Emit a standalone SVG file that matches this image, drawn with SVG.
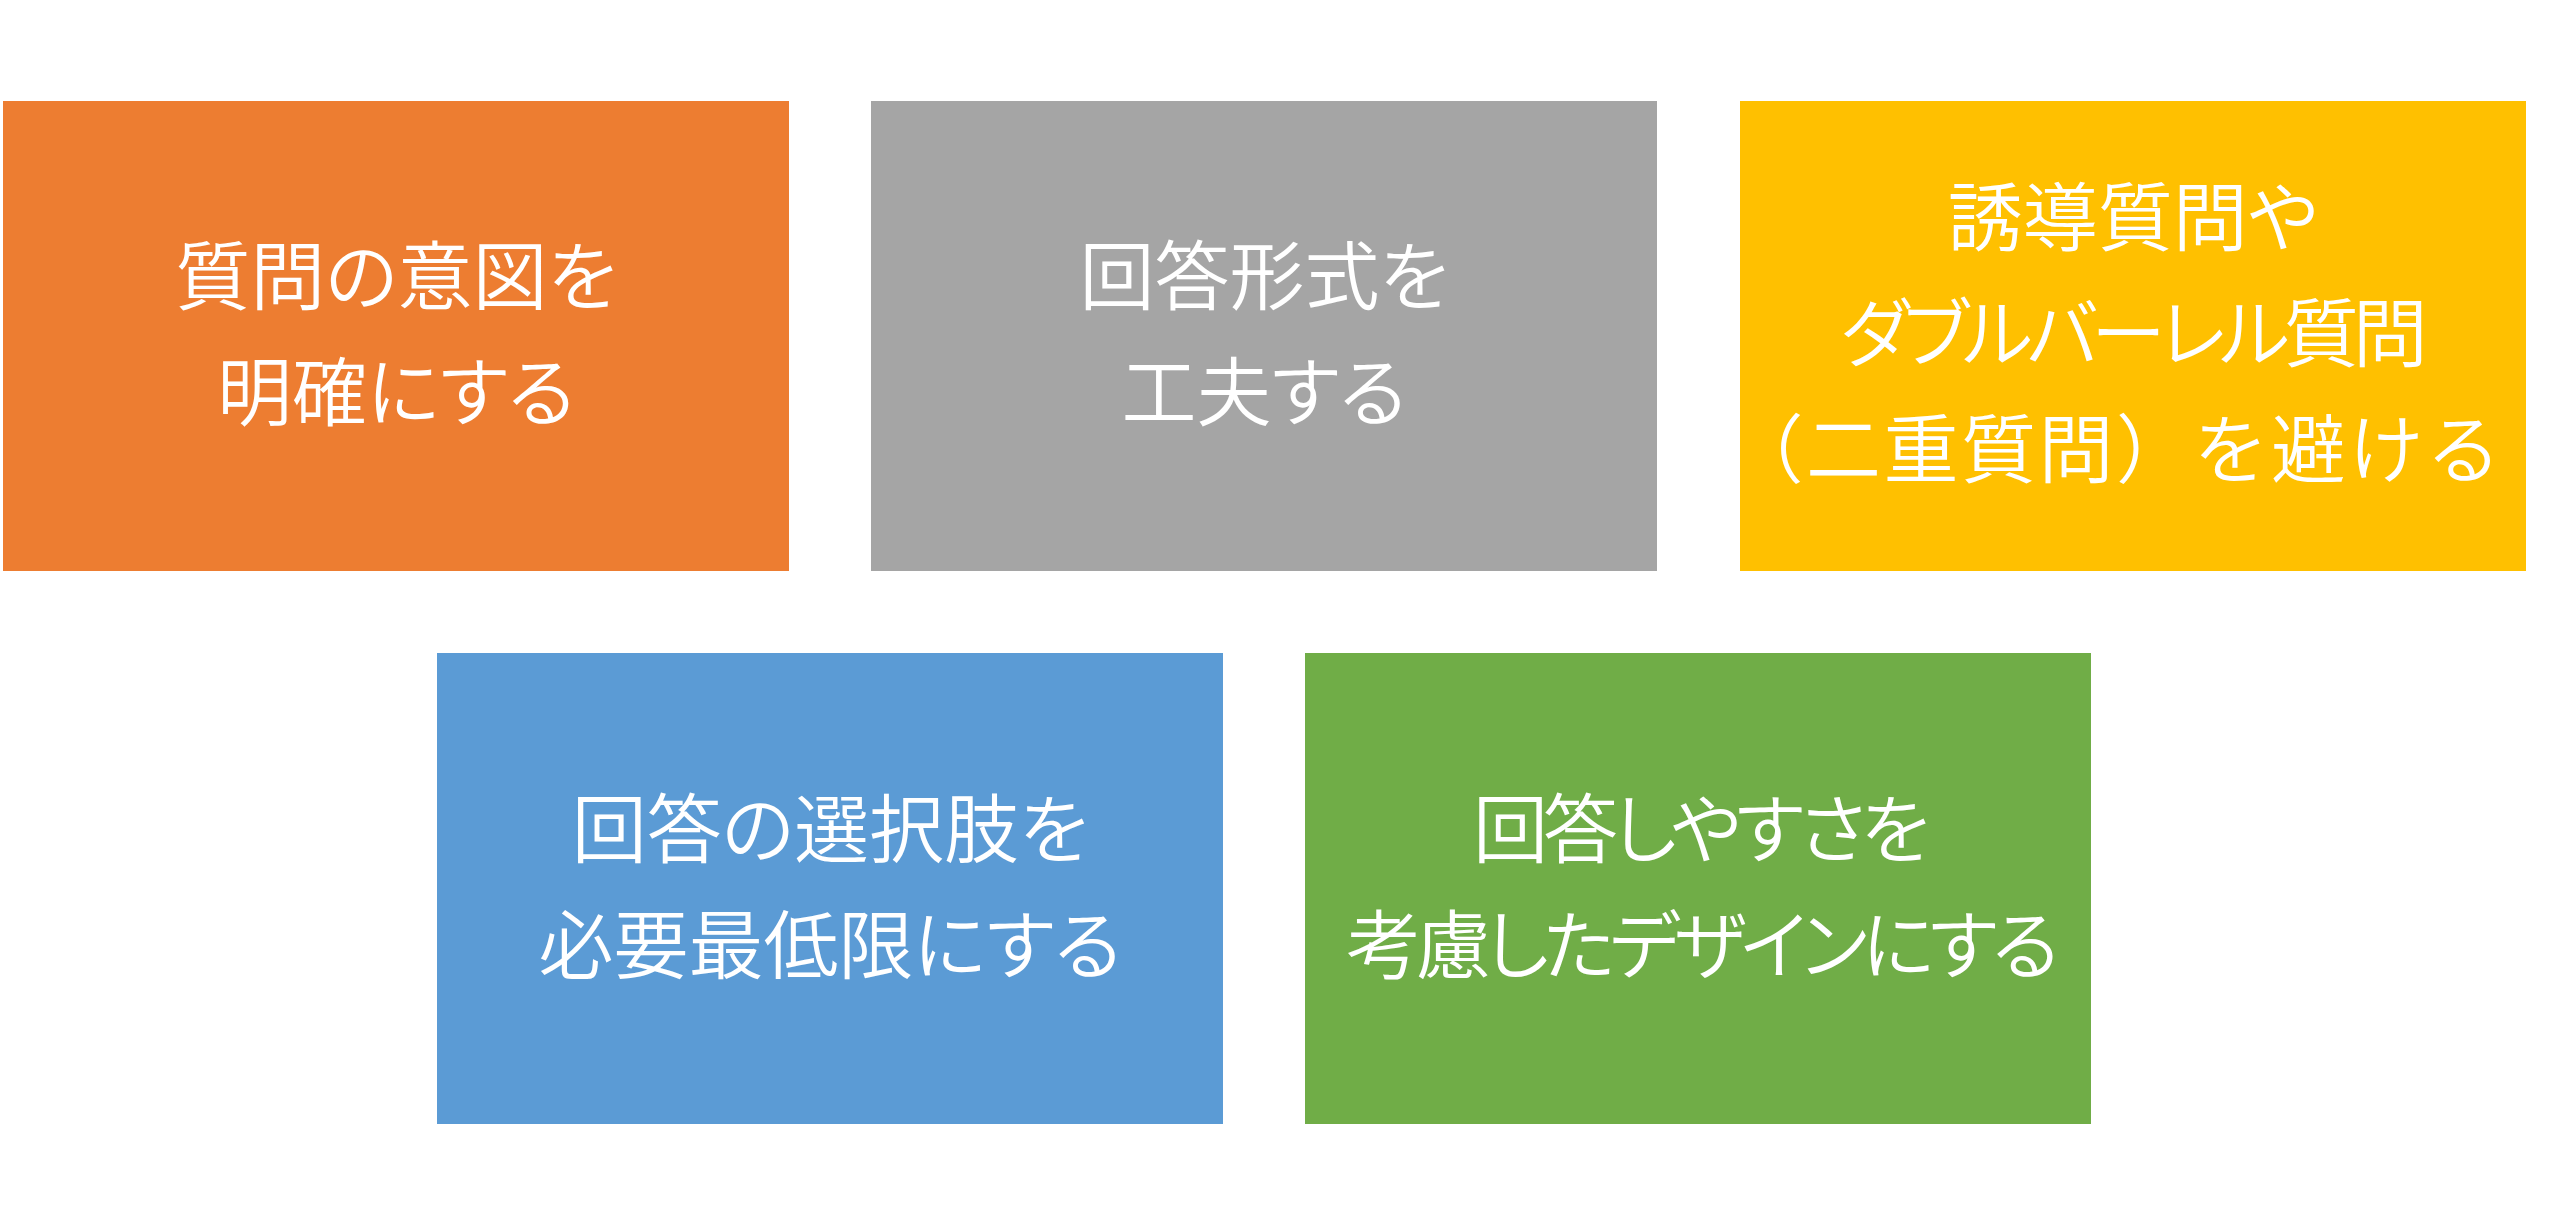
<svg xmlns="http://www.w3.org/2000/svg" width="2560" height="1224" viewBox="0 0 2560 1224">
<style>
.box{stroke:none}
.lbl{font-family:"Noto Sans CJK JP","Noto Sans CJK SC",sans-serif;font-size:75px;font-weight:350;fill:#FFFFFF;text-anchor:middle;font-feature-settings:"palt" 1}
.full{font-feature-settings:normal}
</style>
<rect x="0" y="0" width="2560" height="1224" fill="#FFFFFF"/>
<g id="connectors"/>
<g id="node-intent">
<rect class="box" x="3" y="101" width="786" height="470" fill="#ED7D31"/>
<text class="lbl" x="396" y="304">質問の意図を</text>
<text class="lbl" x="396" y="420">明確にする</text>
</g>
<g id="node-format">
<rect class="box" x="871" y="101" width="786" height="470" fill="#A5A5A5"/>
<text class="lbl" x="1264" y="304">回答形式を</text>
<text class="lbl" x="1264" y="420">工夫する</text>
</g>
<g id="node-leading">
<rect class="box" x="1740" y="101" width="786" height="470" fill="#FFC000"/>
<text class="lbl" x="2133" y="245">誘導質問や</text>
<text class="lbl" x="2131" y="361" letter-spacing="-6">ダブルバーレル質問</text>
<text class="lbl full" x="2116" y="477" letter-spacing="2.5">（二重質問）を避ける</text>
</g>
<g id="node-choices">
<rect class="box" x="437" y="653" width="786" height="471" fill="#5B9BD5"/>
<text class="lbl" x="830" y="857">回答の選択肢を</text>
<text class="lbl" x="830" y="973">必要最低限にする</text>
</g>
<g id="node-design">
<rect class="box" x="1305" y="653" width="786" height="471" fill="#70AD47"/>
<text class="lbl" x="1699" y="857" letter-spacing="-5">回答しやすさを</text>
<text class="lbl" x="1700" y="973" letter-spacing="-5.5">考慮したデザインにする</text>
</g>
</svg>
